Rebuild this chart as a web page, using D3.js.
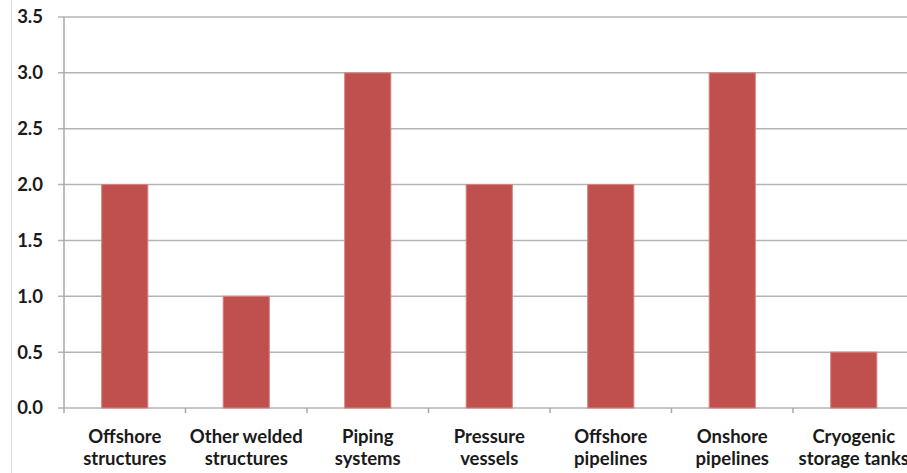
<!DOCTYPE html>
<html>
<head>
<meta charset="utf-8">
<script src="https://cdn.jsdelivr.net/npm/d3@7"></script>
<style>
  html, body { margin: 0; padding: 0; background: #fff; }
  svg { display: block; }
  text { font-family: Lato, "Open Sans", sans-serif; font-weight: 700; fill: #1a1a1a; }
</style>
</head>
<body>
<svg id="chart" width="907" height="473"></svg>
<script>
// Categories (two-line labels) and their values
const categories = [
  ["Offshore", "structures"],
  ["Other welded", "structures"],
  ["Piping", "systems"],
  ["Pressure", "vessels"],
  ["Offshore", "pipelines"],
  ["Onshore", "pipelines"],
  ["Cryogenic", "storage tanks"]
];
const values = [2.0, 1.0, 3.0, 2.0, 2.0, 3.0, 0.5];
const yTicks = [0, 0.5, 1.0, 1.5, 2.0, 2.5, 3.0, 3.5];

const svg = d3.select("#chart");
const W = 907, H = 473;
const plotLeft = 64, plotTop = 17, plotBottom = 408, step = 121.5;

const x = d3.scaleBand()
  .domain(d3.range(categories.length))
  .range([plotLeft, plotLeft + step * categories.length])
  .paddingInner(0.62)
  .paddingOuter(0.31);

const y = d3.scaleLinear().domain([0, 3.5]).range([plotBottom, plotTop]);

// thin frame line at the left edge
svg.append("line")
  .attr("x1", 11.5).attr("x2", 11.5).attr("y1", 0).attr("y2", H)
  .attr("stroke", "#dcdcdc").attr("stroke-width", 1);

// horizontal gridlines with short ticks to the left of the axis
svg.append("g").selectAll("line").data(yTicks).join("line")
  .attr("x1", plotLeft - 6).attr("x2", W)
  .attr("y1", d => y(d)).attr("y2", d => y(d))
  .attr("stroke", "#b4b4b4").attr("stroke-width", 1.5);

// y axis line
svg.append("line")
  .attr("x1", plotLeft).attr("x2", plotLeft).attr("y1", y(3.5)).attr("y2", plotBottom + 5)
  .attr("stroke", "#a8a8a8").attr("stroke-width", 1.5);

// category boundary ticks below the x axis
const boundaries = d3.range(1, categories.length).map(i => plotLeft + step * i);
svg.append("g").selectAll("line").data(boundaries).join("line")
  .attr("x1", d => d).attr("x2", d => d)
  .attr("y1", plotBottom).attr("y2", plotBottom + 5)
  .attr("stroke", "#a8a8a8").attr("stroke-width", 1.5);

// y tick labels
svg.append("g").selectAll("text").data(yTicks).join("text")
  .attr("x", 43).attr("y", d => y(d))
  .attr("dy", "0.35em")
  .attr("text-anchor", "end")
  .attr("font-size", 18.5)
  .text(d => d.toFixed(1));

// bars
svg.append("g").selectAll("rect").data(values).join("rect")
  .attr("x", (d, i) => x(i))
  .attr("width", x.bandwidth())
  .attr("y", d => y(d))
  .attr("height", d => plotBottom - y(d))
  .attr("fill", "#C0504D")
  .attr("stroke", "#d7837f").attr("stroke-width", 1);

// category labels
const lab = svg.append("g").selectAll("text").data(categories).join("text")
  .attr("text-anchor", "middle")
  .attr("font-size", 18.5)
  .attr("x", (d, i) => x(i) + x.bandwidth() / 2)
  .attr("y", 443);
lab.selectAll("tspan").data(d => d).join("tspan")
  .attr("x", function () { return this.parentNode.getAttribute("x"); })
  .attr("dy", (d, i) => i === 0 ? 0 : 22)
  .text(d => d);
</script>
</body>
</html>
